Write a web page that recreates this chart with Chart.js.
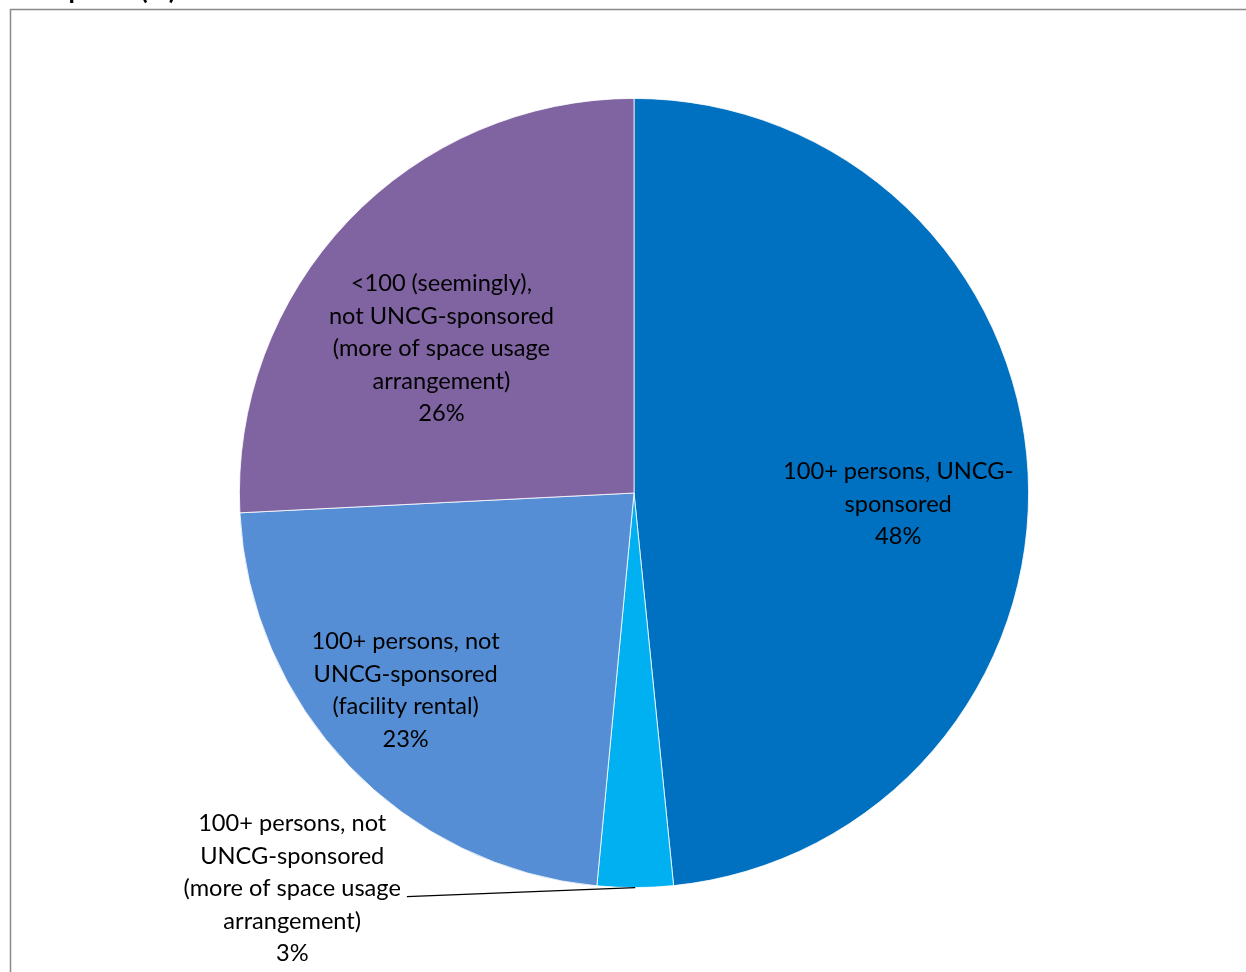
<!DOCTYPE html>
<html>
<head>
<meta charset="utf-8">
<script src="https://cdn.jsdelivr.net/npm/chart.js@4/dist/chart.umd.min.js"></script>
<style>
  html, body { margin: 0; padding: 0; background: #fff; }
  #wrap { width: 1246px; height: 972px; }
</style>
</head>
<body>
<div id="wrap"><canvas id="pie" width="1246" height="972"></canvas></div>
<script>
// --- datos del grafico ---
const categories = [
    '100+ persons, UNCG-sponsored',
    '100+ persons, not UNCG-sponsored (more of space usage arrangement)',
    '100+ persons, not UNCG-sponsored (facility rental)',
    '<100 (seemingly), not UNCG-sponsored (more of space usage arrangement)'
];
const shares = [48.4, 3.1, 22.7, 25.8];
const pctLabels = ['48%', '3%', '23%', '26%'];
const labelLines = [
    ['100+ persons, UNCG-', 'sponsored'],
    ['100+ persons, not', 'UNCG-sponsored', '(more of space usage', 'arrangement)'],
    ['100+ persons, not', 'UNCG-sponsored', '(facility rental)'],
    ['<100 (seemingly),', 'not UNCG-sponsored', '(more of space usage', 'arrangement)']
];
const sliceColors = ['#0070C0', '#00B0F0', '#558ED5', '#8064A2'];
const titleText = 'Event Spaces (%)';

// donde va cada etiqueta (fraccion del radio y giro en grados, o fuera con linea guia)
const labelPlace = [
    { r: 0.67, da: 5.3 },
    { outside: true, dx: -343, dy: 1 },
    { r: 0.765, da: 2.9 },
    { r: 0.61, da: -6.7 }
];

const FONT = '23.6px Lato, "Open Sans", sans-serif';
const LINE_H = 32.5;

const frameAndTitle = {
    id: 'frameAndTitle',
    beforeDraw(chart) {
        const ctx = chart.ctx;
        ctx.save();
        ctx.fillStyle = '#fff';
        ctx.fillRect(0, 0, chart.width, chart.height);
        ctx.strokeStyle = '#898989';
        ctx.lineWidth = 1.5;
        ctx.strokeRect(10.5, 9.5, 1400, 1100);
        ctx.fillStyle = '#000';
        ctx.font = 'bold 26px Lato, sans-serif';
        ctx.textAlign = 'right';
        ctx.textBaseline = 'alphabetic';
        ctx.fillText(titleText, 176, -1);
        ctx.restore();
    }
};

const sliceLabels = {
    id: 'sliceLabels',
    afterDatasetsDraw(chart) {
        const ctx = chart.ctx;
        const meta = chart.getDatasetMeta(0);
        ctx.save();
        ctx.font = FONT;
        ctx.fillStyle = '#000';
        ctx.textAlign = 'center';
        ctx.textBaseline = 'middle';
        meta.data.forEach((arc, i) => {
            const p = labelPlace[i];
            const lines = labelLines[i].concat([pctLabels[i]]);
            const mid = (arc.startAngle + arc.endAngle) / 2;
            let cx, cy;
            if (p.outside) {
                const ox = arc.x + Math.cos(mid) * arc.outerRadius;
                const oy = arc.y + Math.sin(mid) * arc.outerRadius;
                cx = ox + p.dx;
                cy = oy + p.dy;
                const maxW = Math.max(...lines.map(l => ctx.measureText(l).width));
                ctx.beginPath();
                ctx.strokeStyle = '#000';
                ctx.lineWidth = 1.2;
                ctx.moveTo(cx + maxW / 2 + 6, cy + 8);
                ctx.lineTo(ox, oy);
                ctx.stroke();
            } else {
                const a = mid + p.da * Math.PI / 180;
                cx = arc.x + Math.cos(a) * arc.outerRadius * p.r;
                cy = arc.y + Math.sin(a) * arc.outerRadius * p.r;
            }
            const top = cy - (lines.length - 1) * LINE_H / 2;
            lines.forEach((l, k) => ctx.fillText(l, cx, top + k * LINE_H));
        });
        ctx.restore();
    }
};

new Chart(document.getElementById('pie'), {
    type: 'pie',
    data: {
        labels: categories,
        datasets: [{
            data: shares,
            backgroundColor: sliceColors,
            borderColor: '#ffffff',
            borderWidth: 0.8
        }]
    },
    options: {
        responsive: false,
        animation: false,
        layout: { padding: { left: 239, right: 217, top: 98, bottom: 84 } },
        plugins: {
            legend: { display: false },
            tooltip: { enabled: false }
        }
    },
    plugins: [frameAndTitle, sliceLabels]
});
</script>
</body>
</html>
